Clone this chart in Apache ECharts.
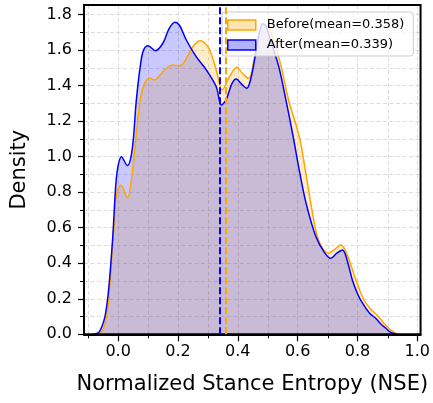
<!DOCTYPE html>
<html>
<head>
<meta charset="utf-8">
<script src="https://cdn.jsdelivr.net/npm/echarts@6/dist/echarts.min.js"></script>
<style>
  html, body { margin: 0; padding: 0; background: #fff; }
  #chart { width: 433px; height: 403px; }
</style>
</head>
<body>
<div id="chart"></div>
<script>
// KDE curves
const beforeX = [-0.075, -0.055, -0.045, -0.035, -0.028, -0.022, -0.012, -0.005, 0.009, 0.031, 0.045, 0.061, 0.075, 0.089, 0.106, 0.122, 0.14, 0.161, 0.183, 0.205, 0.22, 0.235, 0.255, 0.275, 0.3, 0.315, 0.328, 0.348, 0.372, 0.397, 0.415, 0.436, 0.455, 0.47, 0.487, 0.5, 0.52, 0.545, 0.57, 0.606, 0.628, 0.65, 0.67, 0.703, 0.725, 0.745, 0.765, 0.795, 0.82, 0.845, 0.865, 0.89, 0.91, 0.935];
const beforeY = [0, 0.015, 0.05, 0.14, 0.27, 0.418, 0.65, 0.794, 0.84, 0.77, 0.88, 1.13, 1.33, 1.413, 1.441, 1.432, 1.46, 1.498, 1.516, 1.511, 1.53, 1.575, 1.63, 1.653, 1.62, 1.56, 1.488, 1.376, 1.45, 1.503, 1.47, 1.441, 1.55, 1.68, 1.745, 1.73, 1.66, 1.507, 1.318, 1.11, 0.9, 0.681, 0.531, 0.456, 0.48, 0.503, 0.45, 0.306, 0.2, 0.14, 0.109, 0.06, 0.025, 0];

const afterX = [-0.08, -0.065, -0.055, -0.044, -0.035, -0.028, -0.022, -0.017, -0.009, -0.002, 0.011, 0.031, 0.047, 0.061, 0.075, 0.085, 0.1, 0.125, 0.15, 0.17, 0.19, 0.205, 0.228, 0.261, 0.295, 0.328, 0.345, 0.361, 0.38, 0.395, 0.412, 0.43, 0.445, 0.456, 0.47, 0.483, 0.495, 0.51, 0.537, 0.561, 0.583, 0.606, 0.628, 0.661, 0.69, 0.711, 0.73, 0.75, 0.765, 0.783, 0.8, 0.817, 0.84, 0.861, 0.88, 0.895, 0.91, 0.93];
const afterY = [0, 0.01, 0.04, 0.1, 0.2, 0.32, 0.45, 0.57, 0.81, 0.93, 1.0, 0.95, 1.04, 1.32, 1.52, 1.6, 1.625, 1.597, 1.64, 1.72, 1.757, 1.74, 1.657, 1.563, 1.488, 1.394, 1.291, 1.32, 1.41, 1.437, 1.41, 1.385, 1.45, 1.545, 1.68, 1.748, 1.73, 1.65, 1.507, 1.318, 1.132, 0.92, 0.74, 0.55, 0.46, 0.428, 0.455, 0.475, 0.42, 0.306, 0.23, 0.175, 0.12, 0.09, 0.055, 0.034, 0.012, 0];

const meanBefore = 0.358;
const meanAfter = 0.339;
const seriesNames = ['Before(mean=0.358)', 'After(mean=0.339)'];

const majorX = [0, 0.2, 0.4, 0.6, 0.8, 1.0];
const minorX = [-0.1, 0.1, 0.3, 0.5, 0.7, 0.9];
const majorY = [0, 0.2, 0.4, 0.6, 0.8, 1.0, 1.2, 1.4, 1.6, 1.8];
const minorY = [0.1, 0.3, 0.5, 0.7, 0.9, 1.1, 1.3, 1.5, 1.7];

const xMin = -0.114, xMax = 1.011, yMin = 0, yMax = 1.854;

const chart = echarts.init(document.getElementById('chart'));
const font = 'DejaVu Sans';
const gridLine = { show: true, lineStyle: { color: '#d3d3d3', width: 0.8, type: [4, 2.5] } };
const rect = { left: 84, top: 5, width: 337.7, height: 329.3 };

function zip(xs, ys) {
  return xs.map((x, i) => [x, ys[i]]);
}

function meanLine(x, color) {
  return {
    silent: true,
    symbol: ['none', 'none'],
    label: { show: false },
    lineStyle: { color: color, width: 2, type: [7, 3] },
    data: [{ xAxis: x }]
  };
}

const option = {
  animation: false,
  textStyle: { fontFamily: font },
  grid: [
    Object.assign({ show: true, borderColor: '#000', borderWidth: 2, z: 3 }, rect),
    Object.assign({}, rect)
  ],
  legend: {
    left: 222,
    top: 12,
    orient: 'vertical',
    backgroundColor: 'rgba(255,255,255,0.8)',
    borderColor: '#cccccc',
    borderWidth: 1,
    borderRadius: 3,
    padding: [5, 9, 3, 5],
    itemGap: 4,
    itemWidth: 28,
    itemHeight: 10,
    icon: 'rect',
    textStyle: { fontFamily: font, fontSize: 13, color: '#000', lineHeight: 16, padding: [0, 0, 0, 6] },
    data: [
      { name: seriesNames[0], itemStyle: { color: 'rgba(255,165,0,0.3)', borderColor: '#FFA500', borderWidth: 1.5 } },
      { name: seriesNames[1], itemStyle: { color: 'rgba(0,0,255,0.3)', borderColor: '#0000FF', borderWidth: 1.5 } }
    ]
  },
  xAxis: [
    {
      type: 'value', gridIndex: 0, min: xMin, max: xMax,
      name: 'Normalized Stance Entropy (NSE)',
      nameLocation: 'middle', nameGap: 40,
      nameTextStyle: { fontFamily: font, fontSize: 21, color: '#000' },
      axisLine: { onZero: false, lineStyle: { color: '#000', width: 2 } },
      axisTick: { show: true, length: 7, customValues: majorX, lineStyle: { color: '#000', width: 1.2 } },
      axisLabel: { customValues: majorX, fontSize: 16, color: '#000', margin: 10,
        formatter: v => v.toFixed(1) },
      splitLine: gridLine
    },
    {
      type: 'value', gridIndex: 1, min: xMin, max: xMax,
      axisLine: { show: false, onZero: false },
      axisTick: { show: true, length: 4, customValues: minorX, lineStyle: { color: '#000', width: 1 } },
      axisLabel: { show: false },
      splitLine: gridLine
    }
  ],
  yAxis: [
    {
      type: 'value', gridIndex: 0, min: yMin, max: yMax,
      name: 'Density',
      nameLocation: 'middle', nameGap: 54,
      nameTextStyle: { fontFamily: font, fontSize: 21, color: '#000' },
      axisLine: { show: true, onZero: false, lineStyle: { color: '#000', width: 2 } },
      axisTick: { show: true, length: 6, customValues: majorY, lineStyle: { color: '#000', width: 1.2 } },
      axisLabel: { customValues: majorY, fontSize: 16, color: '#000', margin: 12,
        formatter: v => v.toFixed(1) },
      splitLine: gridLine
    },
    {
      type: 'value', gridIndex: 1, min: yMin, max: yMax,
      axisLine: { show: false, onZero: false },
      axisTick: { show: true, length: 4, customValues: minorY, lineStyle: { color: '#000', width: 1 } },
      axisLabel: { show: false },
      splitLine: gridLine
    }
  ],
  series: [
    {
      name: seriesNames[0],
      type: 'line',
      xAxisIndex: 0, yAxisIndex: 0,
      data: zip(beforeX, beforeY),
      smooth: 0.35,
      showSymbol: false,
      color: '#FFA500',
      lineStyle: { color: '#FFA500', width: 1.5 },
      areaStyle: { color: 'rgba(255,165,0,0.3)', origin: 'start' },
      markLine: meanLine(meanBefore, '#FFA500'),
      z: 2
    },
    {
      name: seriesNames[1],
      type: 'line',
      xAxisIndex: 0, yAxisIndex: 0,
      data: zip(afterX, afterY),
      smooth: 0.35,
      showSymbol: false,
      color: '#0000FF',
      lineStyle: { color: '#0000FF', width: 1.5 },
      areaStyle: { color: 'rgba(0,0,255,0.3)', origin: 'start' },
      markLine: meanLine(meanAfter, '#0000FF'),
      z: 2
    }
  ]
};

chart.setOption(option);
</script>
</body>
</html>
